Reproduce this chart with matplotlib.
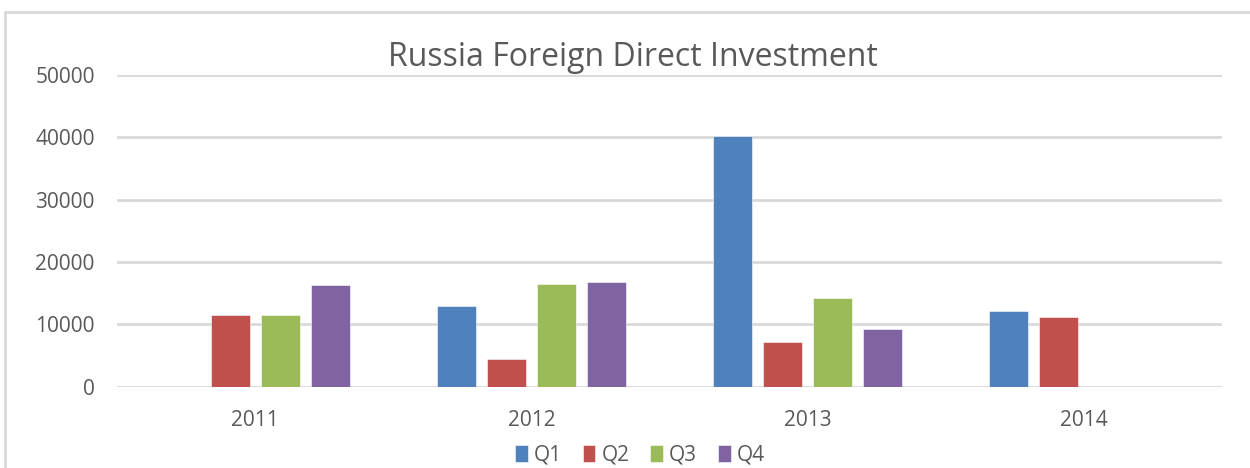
import matplotlib.pyplot as plt
import numpy as np
from matplotlib.patches import Rectangle

plt.rcParams['font.family'] = ['Open Sans', 'DejaVu Sans']

YEARS = ['2011', '2012', '2013', '2014']
QUARTERS = ['Q1', 'Q2', 'Q3', 'Q4']
Q1 = [0, 12950, 40200, 12150]
Q2 = [11500, 4500, 7200, 11150]
Q3 = [11500, 16450, 14200, np.nan]
Q4 = [16300, 16850, 9250, np.nan]
COLORS = ['#4F81BD', '#C0504D', '#9BBB59', '#8064A2']
TEXT = '#595959'

fig = plt.figure(figsize=(12.5, 4.68), dpi=100)
ax = fig.add_axes([0.0936, 0.1737, 0.884, 0.666])

# chart border (light frame, cut off at right/bottom like the screenshot)
fig.patches.append(Rectangle((5 / 1250, -0.1), 1.2, 1 - 12 / 468 + 0.1,
                             transform=fig.transFigure, fill=False,
                             edgecolor='#D9D9D9', linewidth=2))

x = np.arange(len(YEARS))
pitch = 0.181
width = 0.141
for i, (vals, q, c) in enumerate(zip([Q1, Q2, Q3, Q4], QUARTERS, COLORS)):
    ax.bar(x + (i - 1.5) * pitch, vals, width, color=c, label=q,
           edgecolor='white', linewidth=0.4, zorder=3)

ax.set_xlim(-0.5, len(YEARS) - 0.5)
ax.set_ylim(0, 50000)
ax.set_yticks(range(0, 50001, 10000))
ax.set_xticks(x)
ax.set_xticklabels(YEARS)
ax.grid(True, axis='y', color='#D9D9D9', linewidth=2, zorder=0)
ax.set_axisbelow(True)
for s in ax.spines.values():
    s.set_visible(False)
ax.tick_params(axis='both', length=0, colors=TEXT, labelsize=15)
ax.tick_params(axis='y', pad=16)
ax.tick_params(axis='x', pad=17)

fig.text(0.506, 1 - 58 / 468, 'Russia Foreign Direct Investment',
         ha='center', va='center', fontsize=23, color=TEXT)

leg = fig.legend(loc='center', bbox_to_anchor=(0.512, 1 - 455 / 468), ncol=4,
                 frameon=False, fontsize=15, handlelength=0.6, handleheight=0.9,
                 handletextpad=0.3, columnspacing=1.0)
for t in leg.get_texts():
    t.set_color(TEXT)

fig.savefig('out.png', dpi=100)
